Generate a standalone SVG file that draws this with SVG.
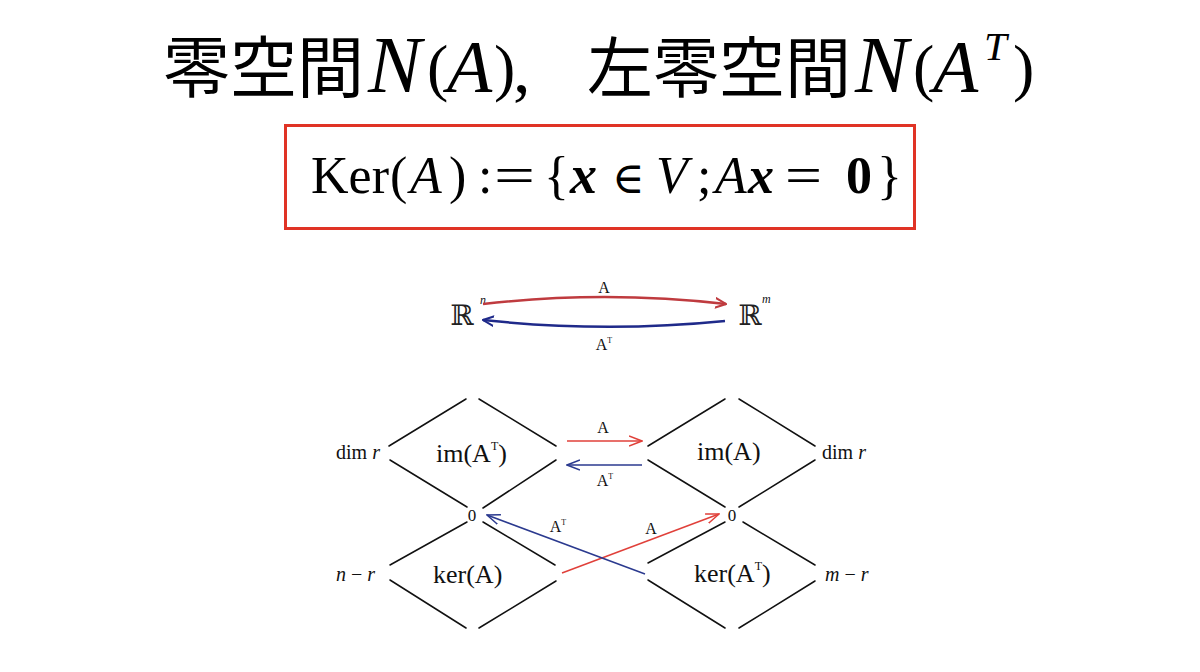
<svg xmlns="http://www.w3.org/2000/svg" width="1200" height="672" viewBox="0 0 1200 672">
<defs>
<style>
.cjk{font-family:"Noto Sans CJK JP","Noto Sans CJK SC",sans-serif}
.ser{font-family:"Liberation Serif","Times New Roman",serif}
.it{font-style:italic}
.bd{font-weight:bold}
.dl{stroke:#111;stroke-width:1.5;fill:none;stroke-linecap:round}
.lbl{font-family:"Liberation Serif","Times New Roman",serif;fill:#111}
</style>
<marker id="hr" viewBox="0 0 12 12" refX="11" refY="6" markerWidth="12" markerHeight="12" markerUnits="userSpaceOnUse" orient="auto">
<path d="M0,1 L11,6 L0,11" fill="none" stroke="#bf3b3f" stroke-width="2"/>
</marker>
<marker id="hb" viewBox="0 0 12 12" refX="11" refY="6" markerWidth="12" markerHeight="12" markerUnits="userSpaceOnUse" orient="auto">
<path d="M0,1 L11,6 L0,11" fill="none" stroke="#1f2a8a" stroke-width="2"/>
</marker>
<marker id="hr2" viewBox="0 0 14 12" refX="13" refY="6" markerWidth="14" markerHeight="12" markerUnits="userSpaceOnUse" orient="auto">
<path d="M0,1 L13,6 L0,11" fill="none" stroke="#e0403a" stroke-width="1.5"/>
</marker>
<marker id="hb2" viewBox="0 0 14 12" refX="13" refY="6" markerWidth="14" markerHeight="12" markerUnits="userSpaceOnUse" orient="auto">
<path d="M0,1 L13,6 L0,11" fill="none" stroke="#2b3a8f" stroke-width="1.5"/>
</marker>
</defs>
<rect width="1200" height="672" fill="#fff"/>

<g id="title" fill="#000">
<text y="92"><tspan class="cjk" font-size="67" x="163">零空間</tspan><tspan class="ser it" font-size="80" x="368">N</tspan><tspan class="ser" font-size="64" x="427" dy="-3">(</tspan><tspan class="ser it" font-size="74" x="447" dy="3">A</tspan><tspan class="ser" font-size="64" x="494" dy="-3">)</tspan><tspan class="ser" font-size="70" x="513" dy="3">,</tspan><tspan class="cjk" font-size="66" x="587">左零空間</tspan><tspan class="ser it" font-size="80" x="855">N</tspan><tspan class="ser" font-size="64" x="913" dy="-3">(</tspan><tspan class="ser it" font-size="74" x="933" dy="3">A</tspan><tspan class="ser it" font-size="41" x="984" dy="-32">T</tspan><tspan class="ser" font-size="64" x="1013" dy="29">)</tspan></text>
</g>

<g id="definition">
<rect x="285.5" y="125.5" width="629" height="103" fill="#fff" stroke="#e03325" stroke-width="3"/>
<text y="193" font-size="52" class="ser" fill="#000"><tspan x="311">Ker</tspan><tspan x="390">(</tspan><tspan x="410" class="it">A</tspan><tspan x="449">)</tspan><tspan x="478">:</tspan><tspan x="494" textLength="41" lengthAdjust="spacingAndGlyphs">=</tspan><tspan x="544">{</tspan><tspan x="570" class="it bd" font-size="54">x</tspan><tspan x="612" font-size="44" font-family="DejaVu Serif,serif">∈</tspan><tspan x="656" class="it">V</tspan><tspan x="697">;</tspan><tspan x="715" class="it">A</tspan><tspan x="748" class="it bd">x</tspan><tspan x="785" textLength="37" lengthAdjust="spacingAndGlyphs">=</tspan><tspan x="846" class="bd">0</tspan><tspan x="877">}</tspan></text>
</g>

<g id="Rn">
<text x="462" y="325" font-size="28" font-family="DejaVu Serif,serif" text-anchor="middle" fill="#222">ℝ</text>
<text x="480" y="304" font-size="12" class="lbl it">n</text>
</g>
<g id="Rm">
<text x="750" y="325" font-size="28" font-family="DejaVu Serif,serif" text-anchor="middle" fill="#222">ℝ</text>
<text x="762" y="303" font-size="12" class="lbl it">m</text>
</g>

<g id="left-space">
<path class="dl" d="M466,399 L389,446 M479,399 L556,446 M390,460 L467,507 M556,460 L483,508 M467,522 L390,565 M483,522 L555,565 M390,580 L466,628 M556,581 L479,628"/>
<text x="336" y="459" font-size="20" class="lbl">dim <tspan class="it">r</tspan></text>
<text x="436" y="462" font-size="26" class="lbl">im(A<tspan font-size="12" dy="-12">T</tspan><tspan dy="12">)</tspan></text>
<text x="472" y="521" font-size="17" class="lbl" text-anchor="middle">0</text>
<text x="336" y="581" font-size="20" class="lbl"><tspan class="it">n</tspan> − <tspan class="it">r</tspan></text>
<text x="433" y="583" font-size="26" class="lbl">ker(A)</text>
</g>

<g id="right-space">
<path class="dl" d="M725,399 L648,446 M739,399 L815,446 M648,460 L725,507 M815,460 L739,507 M725,522 L648,563 M743,522 L815,565 M648,580 L725,628 M815,581 L739,628"/>
<text x="822" y="459" font-size="20" class="lbl">dim <tspan class="it">r</tspan></text>
<text x="697" y="460" font-size="26" class="lbl">im(A)</text>
<text x="732" y="521" font-size="17" class="lbl" text-anchor="middle">0</text>
<text x="825" y="581" font-size="20" class="lbl"><tspan class="it">m</tspan> − <tspan class="it">r</tspan></text>
<text x="694" y="582" font-size="26" class="lbl">ker(A<tspan font-size="12" dy="-12">T</tspan><tspan dy="12">)</tspan></text>
</g>

<g id="connectors">
<path d="M483,304 Q605,290 726,304" fill="none" stroke="#bf3b3f" stroke-width="2.5" marker-end="url(#hr)"/>
<path d="M725,321 Q605,333 483,320" fill="none" stroke="#1f2a8a" stroke-width="2.5" marker-end="url(#hb)"/>
<path d="M567,441 L642,441" fill="none" stroke="#e0403a" stroke-width="1.5" marker-end="url(#hr2)"/>
<path d="M642,465 L567,465" fill="none" stroke="#2b3a8f" stroke-width="1.5" marker-end="url(#hb2)"/>
<path d="M562,573 L719,514" fill="none" stroke="#e0403a" stroke-width="1.5" marker-end="url(#hr2)"/>
<path d="M645,574 L487,515" fill="none" stroke="#2b3a8f" stroke-width="1.5" marker-end="url(#hb2)"/>
<text x="604" y="293" font-size="16" class="lbl" text-anchor="middle">A</text>
<text x="604" y="350" font-size="16" class="lbl" text-anchor="middle">A<tspan font-size="8" dy="-7">T</tspan></text>
<text x="603" y="433" font-size="16" class="lbl" text-anchor="middle">A</text>
<text x="605" y="486" font-size="16" class="lbl" text-anchor="middle">A<tspan font-size="8" dy="-7">T</tspan></text>
<text x="558" y="532" font-size="16" class="lbl" text-anchor="middle">A<tspan font-size="8" dy="-7">T</tspan></text>
<text x="651" y="534" font-size="16" class="lbl" text-anchor="middle">A</text>
</g>
</svg>
